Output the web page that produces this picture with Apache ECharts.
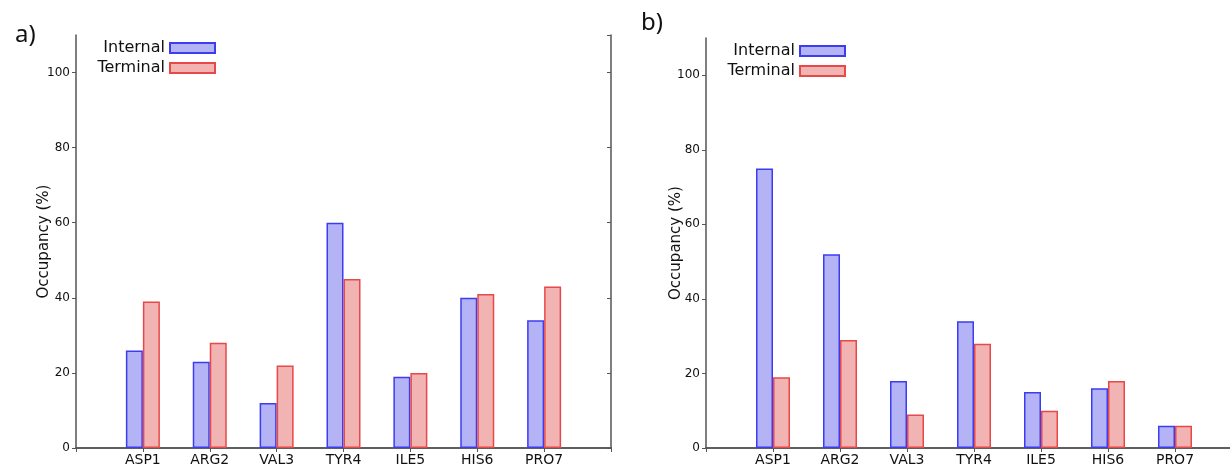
<!DOCTYPE html>
<html>
<head>
<meta charset="utf-8">
<script src="https://cdn.jsdelivr.net/npm/echarts@6/dist/echarts.min.js"></script>
<style>
html,body{margin:0;padding:0;background:#fff;}
#c{width:1230px;height:467px;}
</style>
</head>
<body>
<div id="c"></div>
<script>
const categories = ['', 'ASP1', 'ARG2', 'VAL3', 'TYR4', 'ILE5', 'HIS6', 'PRO7', ''];
const internalA = [null, 26, 23, 12, 60, 19, 40, 34, null];
const terminalA = [null, 39, 28, 22, 45, 20, 41, 43, null];
const internalB = [null, 75, 52, 18, 34, 15, 16, 6, null];
const terminalB = [null, 19, 29, 9, 28, 10, 18, 6, null];
const seriesNames = ['Internal', 'Terminal'];
const yMin = 0, yMax = 110, yInterval = 20;

const FONT = 'DejaVu Sans';
const axisCol = '#555';
const blueStyle = {color: '#b3b3f5', borderColor: '#3c3cf2', borderWidth: 1.5};
const redStyle = {color: '#f2b3b3', borderColor: '#e84848', borderWidth: 1.5};

function xAxes(gi) {
  return [
    {type: 'category', gridIndex: gi, data: categories, boundaryGap: false, position: 'bottom',
     axisLine: {lineStyle: {color: axisCol, width: 1.5}}, axisTick: {show: false},
     axisLabel: {interval: 0, color: '#111', fontFamily: FONT, fontSize: 14, margin: 5},
     splitLine: {show: false}},
    {type: 'category', gridIndex: gi, data: categories, boundaryGap: false, position: 'top',
     axisLine: {lineStyle: {color: axisCol, width: 1.5}},
     axisTick: {show: true, inside: true, length: 4, interval: 0, lineStyle: {color: axisCol}},
     axisLabel: {show: false}, splitLine: {show: false}}
  ];
}
function yAxes(gi, gap) {
  return [
    {type: 'value', gridIndex: gi, min: yMin, max: yMax, interval: yInterval, position: 'left',
     name: 'Occupancy (%)', nameLocation: 'middle', nameGap: gap, nameMoveOverlap: false,
     nameTextStyle: {fontFamily: FONT, fontSize: 15, color: '#111'},
     axisLine: {show: true, lineStyle: {color: axisCol, width: 1.5}},
     axisTick: {show: true, length: 4, lineStyle: {color: axisCol}},
     axisLabel: {color: '#111', fontFamily: FONT, fontSize: 12, margin: 6, showMaxLabel: false},
     splitLine: {show: false}},
    {type: 'value', gridIndex: gi, min: yMin, max: yMax, interval: yInterval, position: 'right',
     axisLine: {show: true, lineStyle: {color: axisCol, width: 1.5}},
     axisTick: {show: true, inside: true, length: 4, lineStyle: {color: axisCol}},
     axisLabel: {show: false}, splitLine: {show: false}}
  ];
}
function bars(xi, yi, dI, dT) {
  return [
    {name: seriesNames[0], type: 'bar', xAxisIndex: xi, yAxisIndex: yi, data: dI, barWidth: 17, barGap: '0%', itemStyle: blueStyle, animation: false},
    {name: seriesNames[1], type: 'bar', xAxisIndex: xi, yAxisIndex: yi, data: dT, barWidth: 17, barGap: '0%', itemStyle: redStyle, animation: false}
  ];
}
function legend(name, right, top) {
  return {data: [name], right: right, top: top, orient: 'vertical', align: 'right', itemWidth: 45, itemHeight: 10,
    itemGap: 0, padding: 0, selectedMode: false, icon: 'rect',
    textStyle: {fontFamily: FONT, fontSize: 16, color: '#111', padding: [0, 0, 0, 0]}};
}

const chart = echarts.init(document.getElementById('c'), null, {renderer: 'canvas'});
chart.setOption({
  animation: false,
  backgroundColor: '#fff',
  title: [
    {text: 'a)', left: 10, top: 18, textStyle: {fontFamily: 'Noto Sans', fontSize: 24, fontWeight: 'normal', color: '#111'}},
    {text: 'b)', left: 636, top: 6, textStyle: {fontFamily: 'Noto Sans', fontSize: 24, fontWeight: 'normal', color: '#111'}}
  ],
  grid: [
    {left: 76, right: 619, top: 35, bottom: 19, outerBoundsMode: 'none', containLabel: false},
    {left: 706, right: -12, top: 38, bottom: 19, outerBoundsMode: 'none', containLabel: false}
  ],
  legend: [
    legend('Internal', 1014, 40),
    legend('Terminal', 1014, 60),
    legend('Internal', 384, 43),
    legend('Terminal', 384, 63)
  ],
  xAxis: [...xAxes(0), ...xAxes(1)],
  yAxis: [...yAxes(0, 24), ...yAxes(1, 22)],
  series: [...bars(0, 0, internalA, terminalA), ...bars(2, 2, internalB, terminalB)]
});
</script>
</body>
</html>
